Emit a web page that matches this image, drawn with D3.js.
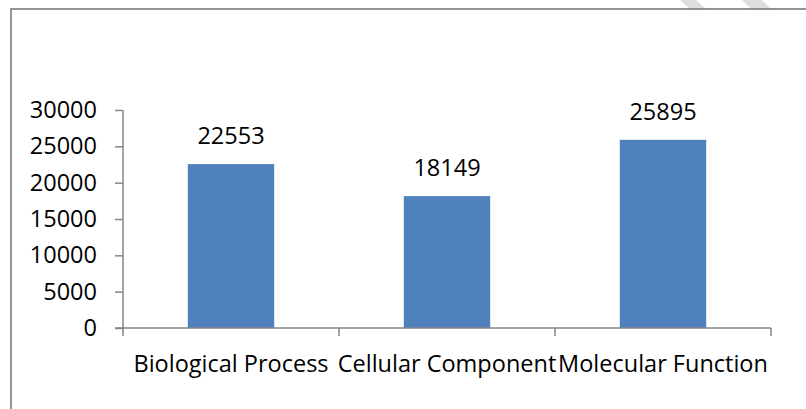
<!DOCTYPE html>
<html>
<head>
<meta charset="utf-8">
<script src="https://cdn.jsdelivr.net/npm/d3@7"></script>
<style>
  html, body { margin: 0; padding: 0; background: #fff; }
  svg { display: block; }
  text { font-family: "Open Sans", "Noto Sans", sans-serif; fill: #000; }
</style>
</head>
<body>
<svg id="chart" width="806" height="409"></svg>
<script>
const categories = ["Biological Process", "Cellular Component", "Molecular Function"];
const values = [22553, 18149, 25895];
const yTicks = [0, 5000, 10000, 15000, 20000, 25000, 30000];

const svg = d3.select("#chart");
const W = 806, H = 409;
const fontSize = 23.5;

svg.append("rect").attr("width", W).attr("height", H).attr("fill", "#fff");

// faint watermark strokes (top right)
const wm = [
  [[680, 0], [696, 0], [707, 10], [691, 10]],
  [[742, 0], [762, 0], [772, 10], [752, 10]]
];
svg.selectAll("polygon.wm").data(wm).enter().append("polygon")
  .attr("class", "wm")
  .attr("points", d => d.map(p => p.join(",")).join(" "))
  .attr("fill", "#dedede");

// chart frame
svg.append("rect")
  .attr("x", 11).attr("y", 9)
  .attr("width", W + 20).attr("height", H + 20)
  .attr("fill", "#fff")
  .attr("stroke", "#888888").attr("stroke-width", 1.8);

const x = d3.scaleBand().domain(categories).range([123, 771]).padding(0);
const y = d3.scaleLinear().domain([0, 30000]).range([328, 110]);
const barFrac = 0.4;

// bars
svg.selectAll("rect.bar").data(values).enter().append("rect")
  .attr("class", "bar")
  .attr("x", (d, i) => x(categories[i]) + x.bandwidth() * (1 - barFrac) / 2)
  .attr("width", x.bandwidth() * barFrac)
  .attr("y", d => y(d))
  .attr("height", d => y(0) - y(d))
  .attr("fill", "#4f81bd");

// y axis
const yAxis = d3.axisLeft(y).tickValues(yTicks).tickSize(8).tickPadding(18)
  .tickFormat(d3.format("d"));
const gy = svg.append("g").attr("transform", "translate(123,0)").call(yAxis);
gy.select(".domain").remove();
gy.selectAll(".tick line").attr("stroke", "#868686").attr("stroke-width", 1.5);
gy.selectAll(".tick text")
  .style("font-family", '"Open Sans", sans-serif')
  .style("font-size", fontSize + "px").attr("fill", "#000");
gy.append("line").attr("x1", 0).attr("x2", 0).attr("y1", y(30000)).attr("y2", y(0) + 8)
  .attr("stroke", "#868686").attr("stroke-width", 1.5);

// x axis
const gx = svg.append("g").attr("transform", "translate(0," + y(0) + ")");
gx.append("line").attr("x1", 115).attr("x2", 771).attr("y1", 0).attr("y2", 0)
  .attr("stroke", "#868686").attr("stroke-width", 1.5);
const boundaries = categories.map(c => x(c)).concat([x(categories[categories.length - 1]) + x.bandwidth()]);
gx.selectAll("line.xt").data(boundaries.slice(1)).enter().append("line")
  .attr("class", "xt")
  .attr("x1", d => d).attr("x2", d => d).attr("y1", 0).attr("y2", 8)
  .attr("stroke", "#868686").attr("stroke-width", 1.5);
gx.selectAll("text.xl").data(categories).enter().append("text")
  .attr("class", "xl")
  .attr("x", d => x(d) + x.bandwidth() / 2)
  .attr("y", 44)
  .attr("text-anchor", "middle")
  .style("font-size", fontSize + "px")
  .text(d => d);

// data labels
svg.selectAll("text.dl").data(values).enter().append("text")
  .attr("class", "dl")
  .attr("x", (d, i) => x(categories[i]) + x.bandwidth() / 2)
  .attr("y", d => y(d) - 20)
  .attr("text-anchor", "middle")
  .style("font-size", fontSize + "px")
  .text(d => d);
</script>
</body>
</html>
